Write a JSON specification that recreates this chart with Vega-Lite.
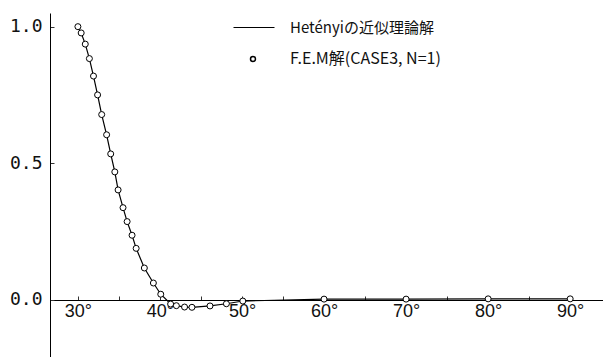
{
  "$schema": "https://vega.github.io/schema/vega-lite/v6.json",
  "autosize": "none",
  "padding": {"left": 50, "top": 13, "right": 0, "bottom": 0},
  "width": 553,
  "height": 344,
  "background": "white",
  "config": {"view": {"stroke": null}},
  "data": {"values": [
    {"deg": 30.0, "v": 1.0},
    {"deg": 30.4, "v": 0.977},
    {"deg": 30.9, "v": 0.936},
    {"deg": 31.4, "v": 0.883},
    {"deg": 31.9, "v": 0.819},
    {"deg": 32.4, "v": 0.75},
    {"deg": 32.9, "v": 0.678},
    {"deg": 33.5, "v": 0.604},
    {"deg": 34.0, "v": 0.534},
    {"deg": 34.5, "v": 0.468},
    {"deg": 34.9, "v": 0.402},
    {"deg": 35.5, "v": 0.337},
    {"deg": 36.0, "v": 0.286},
    {"deg": 36.6, "v": 0.236},
    {"deg": 37.1, "v": 0.188},
    {"deg": 38.1, "v": 0.116},
    {"deg": 39.2, "v": 0.061},
    {"deg": 40.1, "v": 0.02},
    {"deg": 41.3, "v": -0.016},
    {"deg": 42.0, "v": -0.022},
    {"deg": 43.0, "v": -0.027},
    {"deg": 43.9, "v": -0.028},
    {"deg": 46.1, "v": -0.023},
    {"deg": 48.1, "v": -0.015},
    {"deg": 50.1, "v": -0.005},
    {"deg": 60.0, "v": 0.002},
    {"deg": 70.0, "v": 0.002},
    {"deg": 80.0, "v": 0.003},
    {"deg": 90.0, "v": 0.003}
  ]},
  "encoding": {
    "x": {
      "field": "deg", "type": "quantitative",
      "scale": {"domain": [26.6, 94], "nice": false, "zero": false},
      "axis": {
        "title": null,
        "values": [30, 35, 40, 45, 50, 55, 60, 65, 70, 75, 80, 85, 90],
        "labelExpr": "datum.value % 10 == 0 ? datum.value + '°' : ''",
        "offset": -57,
        "grid": false,
        "domainColor": "black",
        "domainWidth": 1,
        "tickColor": "#333",
        "tickSize": -4,
        "tickWidth": 1,
        "labelFont": "Liberation Sans",
        "labelFontSize": 18,
        "labelColor": "#111",
        "labelPadding": 6,
        "labelDx": 3,
        "labelFlush": false
      }
    },
    "y": {
      "field": "v", "type": "quantitative",
      "scale": {"domain": [-0.21, 1.05], "nice": false, "zero": false},
      "axis": {
        "title": null,
        "values": [0, 0.5, 1.0],
        "format": ".1f",
        "grid": false,
        "domainColor": "black",
        "domainWidth": 1,
        "tickColor": "#333",
        "tickSize": -4,
        "labelFont": "DejaVu Sans Mono",
        "labelFontSize": 18,
        "labelColor": "#111",
        "labelPadding": 12,
        "labelFlush": false
      }
    }
  },
  "layer": [
    {
      "mark": {"type": "line", "strokeWidth": 1.2},
      "encoding": {
        "color": {
          "datum": "Hetényiの近似理論解",
          "scale": {"range": ["black"]},
          "legend": {
            "title": null,
            "orient": "none",
            "legendX": 183,
            "legendY": -6.5,
            "padding": 0,
            "symbolType": "stroke",
            "symbolSize": 1681,
            "symbolStrokeWidth": 1,
            "labelOffset": 15,
            "labelFont": "Noto Sans CJK JP",
            "labelFontSize": 15,
            "labelColor": "#111"
          }
        }
      }
    },
    {
      "mark": {"type": "point", "filled": false, "fill": "white", "stroke": "black", "strokeWidth": 1, "size": 36, "opacity": 1},
      "encoding": {
        "shape": {
          "datum": "F.E.M解(CASE3, N=1)",
          "scale": {"range": ["circle"]},
          "legend": {
            "title": null,
            "orient": "none",
            "legendX": 195,
            "legendY": 38,
            "padding": 0,
            "symbolSize": 25,
            "labelOffset": 29,
            "labelFont": "Noto Sans CJK JP",
            "labelFontSize": 16,
            "labelColor": "#111",
            "encode": {
              "symbols": {
                "update": {
                  "stroke": {"value": "black"},
                  "fill": {"value": "white"},
                  "strokeWidth": {"value": 0.8},
                  "opacity": {"value": 1}
                }
              }
            }
          }
        }
      }
    }
  ]
}
